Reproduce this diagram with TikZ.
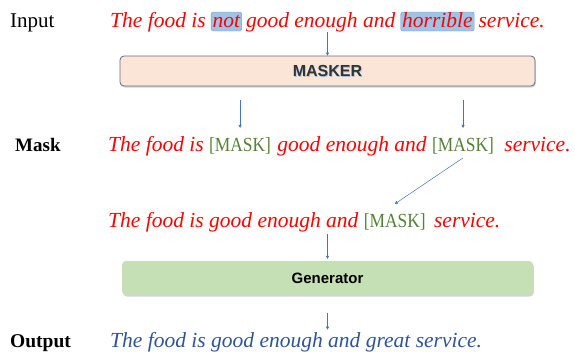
\documentclass[tikz,border=0pt]{standalone}
\usepackage{fontspec}
\setmainfont{Liberation Serif}
\setsansfont{Liberation Sans}
\usetikzlibrary{positioning,shadows,arrows.meta}

\definecolor{sentred}{RGB}{255,0,0}
\definecolor{maskgreen}{RGB}{84,130,53}
\definecolor{outblue}{RGB}{47,85,151}
\definecolor{arrblue}{RGB}{68,114,196}
\definecolor{maskerfill}{RGB}{251,229,214}
\definecolor{maskerline}{RGB}{96,105,140}
\definecolor{genfill}{RGB}{197,224,180}
\definecolor{hlfill}{RGB}{157,195,230}
\definecolor{hlline}{RGB}{120,160,210}

\newcommand{\masktoken}{\scalebox{0.87}[1]{[MASK]}}

\tikzset{
  rowlabel/.style={anchor=base west, inner sep=0pt, font=\fontsize{21}{24}\selectfont},
  sent/.style={anchor=base west, inner sep=0pt, text=sentred, font=\fontsize{21.5}{25}\selectfont\itshape},
  masktok/.style={anchor=base west, inner sep=0pt, text=maskgreen, font=\fontsize{20}{24}\selectfont},
  hl/.style={fill=hlfill, draw=hlline, rounded corners=2pt, inner xsep=1.5pt, inner ysep=0pt, text height=15pt, text depth=4pt},
  block/.style={rounded corners=4pt, drop shadow={shadow xshift=0.8pt, shadow yshift=-1.5pt, opacity=0.35}},
  arr/.style={arrblue, line width=0.5pt, -{Triangle[width=3pt,length=3pt]}}
}

\begin{document}
\begin{tikzpicture}[x=1pt,y=-1pt]
\useasboundingbox (0,0) rectangle (575,351);

%input row
\node[rowlabel] (inlab) at (10,27) {Input};
\node[sent] (in1) at (110,27) {The food is};
\node[sent,hl] (in2) at ([xshift=5pt]in1.base east) {not};
\node[sent] (in3) at ([xshift=4pt]in2.base east) {good enough and};
\node[sent,hl] (in4) at ([xshift=5pt]in3.base east) {horrible};
\node[sent] (in5) at ([xshift=4pt]in4.base east) {service.};

%masker
\node[block, fill=maskerfill, draw=maskerline, line width=0.8pt, minimum width=415pt, minimum height=30pt] (masker) at (327.5,71) {};
\node[text=hlfill, font=\fontsize{16}{18}\sffamily\bfseries] at ([xshift=0.7pt,yshift=-0.7pt]masker.center) {MASKER};
\node[text=black!80, font=\fontsize{16}{18}\sffamily\bfseries] (maskertxt) at (masker.center) {MASKER};

%mask row
\node[rowlabel, font=\fontsize{19}{23}\selectfont\bfseries] (masklab) at (15,151) {Mask};
\node[sent] (mk1) at (108,151) {The food is};
\node[masktok] (mk2) at ([xshift=5pt]mk1.base east) {\masktoken};
\node[sent] (mk3) at ([xshift=6pt]mk2.base east) {good enough and};
\node[masktok] (mk4) at ([xshift=5pt]mk3.base east) {\masktoken};
\node[sent] (mk5) at ([xshift=10pt]mk4.base east) {service.};

%third row
\node[sent] (th1) at (108,227) {The food is good enough and};
\node[masktok] (th2) at ([xshift=5pt]th1.base east) {\masktoken};
\node[sent] (th3) at ([xshift=8pt]th2.base east) {service.};

%generator
\node[block, fill=genfill, minimum width=411pt, minimum height=34pt] (gen) at (327.5,278) {};
\node[font=\fontsize{15}{17}\sffamily\bfseries] (gentxt) at (gen.center) {Generator};

%output row
\node[rowlabel, font=\fontsize{19.5}{23}\selectfont\bfseries] (outlab) at (10,347) {Output};
\node[sent, text=outblue] (out) at (110,347) {The food is good enough and great service.};

%arrows
\draw[arr] ([yshift=-5pt]in3.base -| masker.north) -- (masker.north);
\draw[arr] ([yshift=-14pt]masker.south -| mk2.center) -- ([yshift=9pt]mk2.north);
\draw[arr] ([yshift=-14pt]masker.south -| mk4.center) -- ([yshift=9pt]mk4.north);
\draw[arr] ([yshift=-4pt]mk4.south) -- ([yshift=9pt]th2.north);
\draw[arr] ([yshift=-7pt]th1.base -| gen.north) -- ([yshift=2pt]gen.north);
\draw[arr] ([yshift=-18pt]gen.south) -- ([yshift=2pt]out.north -| gen.south);
\end{tikzpicture}
\end{document}
